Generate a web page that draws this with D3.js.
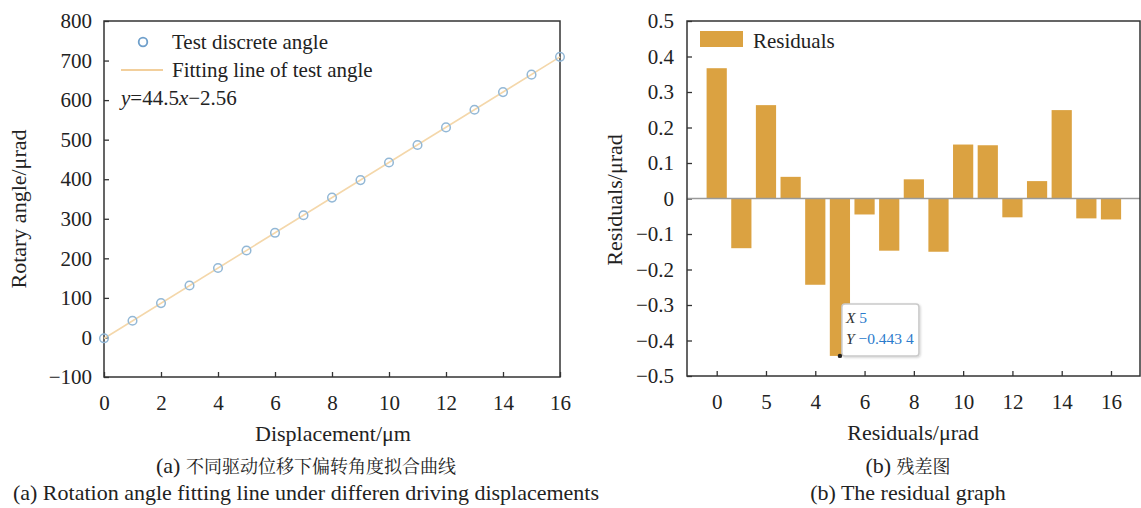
<!DOCTYPE html>
<html>
<head>
<meta charset="utf-8">
<script src="https://cdn.jsdelivr.net/npm/d3@7"></script>
<style>
  html, body { margin: 0; padding: 0; background: #fff; }
  svg { display: block; }
</style>
</head>
<body>
<svg id="chart" width="1141" height="508"></svg>
<script>
// ---- Panel (a): rotation angle vs. driving displacement ----
const displacement = [0, 1, 2, 3, 4, 5, 6, 7, 8, 9, 10, 11, 12, 13, 14, 15, 16];
const testAngle = [-2.2, 42.3, 86.8, 131.3, 175.5, 219.9, 264.5, 309.0, 353.5, 397.8, 442.3, 486.6, 531.0, 575.5, 620.3, 664.4, 709.4];
const fitSlope = 44.5;
const fitIntercept = -2.56;
const angleTicks = [-100, 0, 100, 200, 300, 400, 500, 600, 700, 800];
const dispTicks = [0, 2, 4, 6, 8, 10, 12, 14, 16];

// ---- Panel (b): residuals of the fit ----
const residualIndex = [0, 1, 2, 3, 4, 5, 6, 7, 8, 9, 10, 11, 12, 13, 14, 15, 16];
const residuals = [0.367, -0.140, 0.263, 0.061, -0.243, -0.4434, -0.045, -0.147, 0.054, -0.150, 0.152, 0.150, -0.053, 0.049, 0.249, -0.056, -0.059];
const residualTicks = [-0.5, -0.4, -0.3, -0.2, -0.1, 0, 0.1, 0.2, 0.3, 0.4, 0.5];
const residualXTickPos = [0, 2, 4, 6, 8, 10, 12, 14, 16];
const residualXTickLabels = ["0", "5", "4", "6", "8", "10", "12", "14", "16"];
const tipX = 5;
const tipY = -0.4434;

const SERIF = "Liberation Serif, Tinos, DejaVu Serif, serif";
const CJK = "Noto Serif CJK SC, Noto Sans CJK SC, serif";
const FS = 21;        // ticks and legends
const FT = 22;        // axis titles and captions
const FC = 18;        // CJK glyphs in captions
const axisColor = "#333";

const svg = d3.select("#chart");

function label(x, y, str, opts = {}) {
  const t = svg.append("text")
    .attr("x", x).attr("y", y)
    .attr("font-family", opts.family || SERIF)
    .attr("font-size", opts.size || FS)
    .attr("fill", opts.fill || "#222")
    .attr("text-anchor", opts.anchor || "start");
  if (opts.transform) t.attr("transform", opts.transform);
  t.text(str);
  return t;
}

// caption with a Latin prefix and CJK body
function cjkCaption(x, y, prefix, body) {
  const t = label(x, y, "", { anchor: "middle", size: FT });
  t.append("tspan").text(prefix);
  t.append("tspan").attr("font-family", CJK).attr("font-size", FC).text(body);
  return t;
}

function styleAxis(g) {
  g.selectAll(".domain").remove();
  g.selectAll(".tick line").attr("stroke", axisColor).attr("stroke-width", 1.3);
  g.selectAll(".tick text")
    .attr("font-family", SERIF)
    .attr("font-size", FS)
    .attr("fill", "#222");
  g.attr("font-family", SERIF).attr("font-size", FS);
}

function frame(x0, x1, y0, y1) {
  svg.append("rect")
    .attr("x", x0).attr("y", y0)
    .attr("width", x1 - x0).attr("height", y1 - y0)
    .attr("fill", "none").attr("stroke", axisColor).attr("stroke-width", 1.5);
}

// ================= Panel (a) =================
const A = { left: 104, right: 560, top: 21, bottom: 377 };
const xA = d3.scaleLinear().domain([0, 16]).range([A.left, A.right]);
const yA = d3.scaleLinear().domain([-100, 800]).range([A.bottom, A.top]);

svg.append("g")
  .attr("transform", `translate(${A.left},0)`)
  .call(d3.axisLeft(yA).tickValues(angleTicks).tickSizeInner(-5).tickSizeOuter(0).tickPadding(12).tickFormat(d3.format("d")))
  .call(styleAxis);

svg.append("g")
  .attr("transform", `translate(0,${A.bottom})`)
  .call(d3.axisBottom(xA).tickValues(dispTicks).tickSizeInner(-5).tickSizeOuter(0).tickPadding(18).tickFormat(d3.format("d")))
  .call(styleAxis);

frame(A.left, A.right, A.top, A.bottom);

// fitted line from the stated equation
svg.append("line")
  .attr("x1", xA(0)).attr("y1", yA(fitSlope * 0 + fitIntercept))
  .attr("x2", xA(16)).attr("y2", yA(fitSlope * 16 + fitIntercept))
  .attr("stroke", "#f4d7aa").attr("stroke-width", 1.6);

// measured points
svg.append("g").selectAll("circle")
  .data(displacement)
  .join("circle")
  .attr("cx", (d) => xA(d))
  .attr("cy", (d, i) => yA(testAngle[i]))
  .attr("r", 4.3)
  .attr("fill", "none")
  .attr("stroke", "#93b8d6")
  .attr("stroke-width", 1.5);

// legend
svg.append("circle").attr("cx", 143).attr("cy", 42).attr("r", 4.3)
  .attr("fill", "none").attr("stroke", "#6e9fcb").attr("stroke-width", 1.8);
label(172, 49, "Test discrete angle");
svg.append("line").attr("x1", 121).attr("x2", 163).attr("y1", 70).attr("y2", 70)
  .attr("stroke", "#f2cf9c").attr("stroke-width", 2);
label(172, 77, "Fitting line of test angle");
const eq = label(121, 105, "");
eq.append("tspan").attr("font-style", "italic").text("y");
eq.append("tspan").text("=44.5");
eq.append("tspan").attr("font-style", "italic").text("x");
eq.append("tspan").text("\u22122.56");

// axis titles
label(0, 0, "Rotary angle/\u03bcrad", { anchor: "middle", size: FT, transform: "translate(26,209) rotate(-90)" });
label(333, 441, "Displacement/\u03bcm", { anchor: "middle", size: FT });

// captions
cjkCaption(306, 473, "(a) ", "不同驱动位移下偏转角度拟合曲线");
label(306, 500, "(a) Rotation angle fitting line under differen driving displacements", { anchor: "middle", size: FT });

// ================= Panel (b) =================
const B = { left: 687, right: 1140, top: 21, bottom: 376 };
const xB = d3.scaleLinear().domain([0, 16]).range([716.7, 1111]);
const yB = d3.scaleLinear().domain([-0.5, 0.5]).range([B.bottom, B.top]);
const barW = (xB(1) - xB(0)) * 0.82;

svg.append("g")
  .attr("transform", `translate(${B.left},0)`)
  .call(d3.axisLeft(yB).tickValues(residualTicks).tickSizeInner(-5).tickSizeOuter(0).tickPadding(13)
    .tickFormat((d) => (Math.abs(d) < 1e-9 ? "0" : d3.format(".1f")(d))))
  .call(styleAxis);

svg.append("g")
  .attr("transform", `translate(0,${B.bottom})`)
  .call(d3.axisBottom(xB).tickValues(residualXTickPos).tickSizeInner(-5).tickSizeOuter(0).tickPadding(18)
    .tickFormat((d, i) => residualXTickLabels[i]))
  .call(styleAxis);

// bars
svg.append("g").selectAll("rect")
  .data(residualIndex)
  .join("rect")
  .attr("x", (d) => xB(d) - barW / 2)
  .attr("width", barW)
  .attr("y", (d, i) => yB(Math.max(0, residuals[i])))
  .attr("height", (d, i) => Math.abs(yB(residuals[i]) - yB(0)))
  .attr("fill", "#dba241");

// zero baseline
svg.append("line")
  .attr("x1", B.left).attr("x2", B.right)
  .attr("y1", yB(0)).attr("y2", yB(0))
  .attr("stroke", "#9a9a9a").attr("stroke-width", 1.6);

frame(B.left, B.right, B.top, B.bottom);

// legend
svg.append("rect").attr("x", 700).attr("y", 31).attr("width", 43).attr("height", 16).attr("fill", "#dba241");
label(753, 48, "Residuals");

// data tip on the minimum residual
const defs = svg.append("defs");
const shadow = defs.append("filter").attr("id", "tipShadow").attr("x", "-20%").attr("y", "-20%").attr("width", "140%").attr("height", "140%");
shadow.append("feDropShadow").attr("dx", 1).attr("dy", 1).attr("stdDeviation", 1.2).attr("flood-color", "#000").attr("flood-opacity", 0.18);

const px = xB(tipX), py = yB(tipY);
const tip = svg.append("g").attr("transform", `translate(${px + 2},${py - 52})`);
tip.append("rect").attr("width", 77).attr("height", 52).attr("rx", 3)
  .attr("fill", "#fff").attr("stroke", "#c9c9c9").attr("stroke-width", 1.5)
  .attr("filter", "url(#tipShadow)");
const t1 = tip.append("text").attr("x", 4).attr("y", 19).attr("font-family", SERIF).attr("font-size", 15.5);
t1.append("tspan").attr("font-style", "italic").attr("fill", "#333").text("X");
t1.append("tspan").attr("fill", "#2b7bcc").text(" " + tipX);
const t2 = tip.append("text").attr("x", 4).attr("y", 40).attr("font-family", SERIF).attr("font-size", 15.5);
t2.append("tspan").attr("font-style", "italic").attr("fill", "#333").text("Y");
t2.append("tspan").attr("fill", "#2b7bcc").text(" \u22120.443 4");
svg.append("circle").attr("cx", px).attr("cy", py).attr("r", 2.2).attr("fill", "#222");

// axis titles
label(0, 0, "Residuals/\u03bcrad", { anchor: "middle", size: FT, transform: "translate(622,200) rotate(-90)" });
label(913, 440, "Residuals/\u03bcrad", { anchor: "middle", size: FT });

// captions
cjkCaption(908, 473, "(b) ", "残差图");
label(908, 500, "(b) The residual graph", { anchor: "middle", size: FT });
</script>
</body>
</html>
